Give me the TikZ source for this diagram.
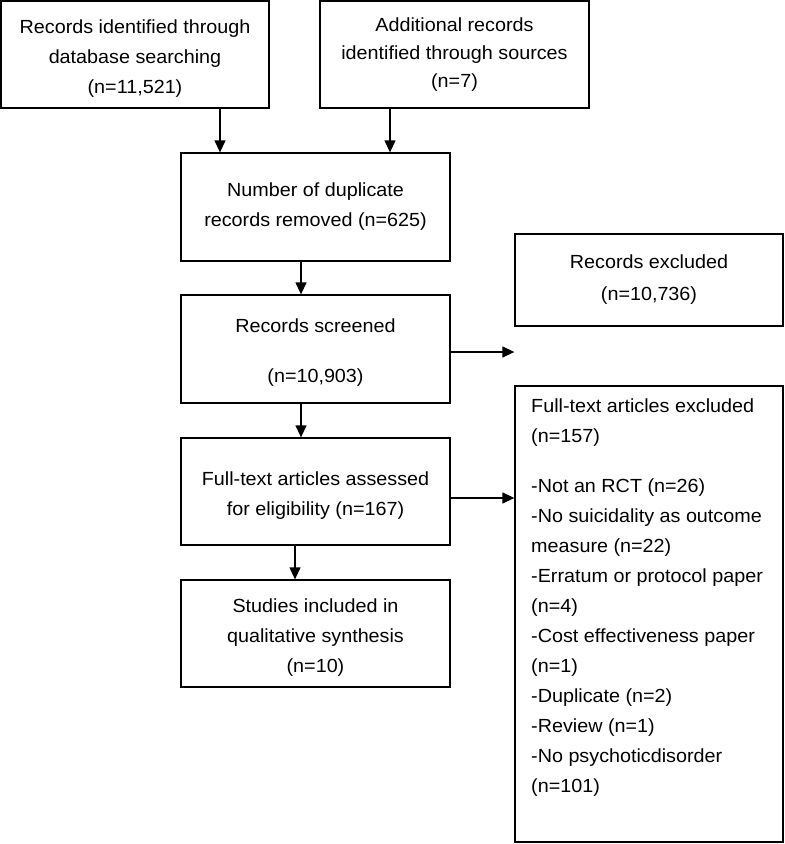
\documentclass[tikz,border=0pt]{standalone}
\usepackage{fontspec}
\setmainfont{Liberation Sans}[FakeStretch=1.04]
\usetikzlibrary{arrows.meta,calc}
\newcommand{\tstrut}{\rule{0pt}{21pt}}
\begin{document}
\begin{tikzpicture}[x=1pt,y=-1pt,
  txt/.style={font=\fontsize{19}{30}\selectfont},
  box/.style={draw,line width=1.3pt,inner sep=0pt,align=center,txt},
  arr/.style={line width=1.3pt,-{Triangle[length=12pt,width=11pt]}}]
\useasboundingbox (0,0) rectangle (785,844);
\node[box,minimum width=268pt,minimum height=107pt] (b1) at (135,54.5) {\tstrut Records identified through\\database searching\\(n=11,521)};
\node[box,minimum width=269pt,minimum height=107pt] (b2) at (454.5,54.5) {Additional records\\[-2pt]identified through sources\\[-2pt](n=7)};
\node[box,minimum width=269pt,minimum height=108pt] (b3) at (315.5,207) {Number of duplicate\\records removed (n=625)};
\node[box,minimum width=268pt,minimum height=92pt] (b4) at (649,280) {Records excluded\\[2pt](n=10,736)};
\node[box,minimum width=269pt,minimum height=108pt] (b5) at (315.5,349) {\tstrut Records screened\\[20pt](n=10,903)};
\node[box,minimum width=269pt,minimum height=107pt] (b6) at (315.5,491.5) {\tstrut Full-text articles assessed\\for eligibility (n=167)};
\node[box,minimum width=269pt,minimum height=107pt] (b7) at (315.5,633.5) {\tstrut Studies included in\\qualitative synthesis\\(n=10)};
\node[draw,line width=1.3pt,inner sep=0pt,minimum width=268pt,minimum height=456pt] (b8) at (649,614) {};
\node[txt,align=left,inner sep=0pt,anchor=north west] (t8) at (531,399) {Full-text articles excluded\\(n=157)\\[20pt]-Not an RCT (n=26)\\-No suicidality as outcome\\measure (n=22)\\-Erratum or protocol paper\\(n=4)\\-Cost effectiveness paper\\(n=1)\\-Duplicate (n=2)\\-Review (n=1)\\-No psychoticdisorder\\(n=101)};
\coordinate (xa) at (220,0);
\coordinate (xb) at (390,0);
\coordinate (xc) at (301,0);
\coordinate (xd) at (295,0);
\coordinate (ya) at (0,352);
\coordinate (yb) at (0,498);
\draw[arr] (b1.south -| xa) -- (b3.north -| xa);
\draw[arr] (b2.south -| xb) -- (b3.north -| xb);
\draw[arr] (b3.south -| xc) -- (b5.north -| xc);
\draw[arr] (b5.south -| xc) -- (b6.north -| xc);
\draw[arr] (b6.south -| xd) -- (b7.north -| xd);
\draw[arr] (b5.east |- ya) -- (b4.west |- ya);
\draw[arr] (b6.east |- yb) -- (b8.west |- yb);
\end{tikzpicture}
\end{document}
